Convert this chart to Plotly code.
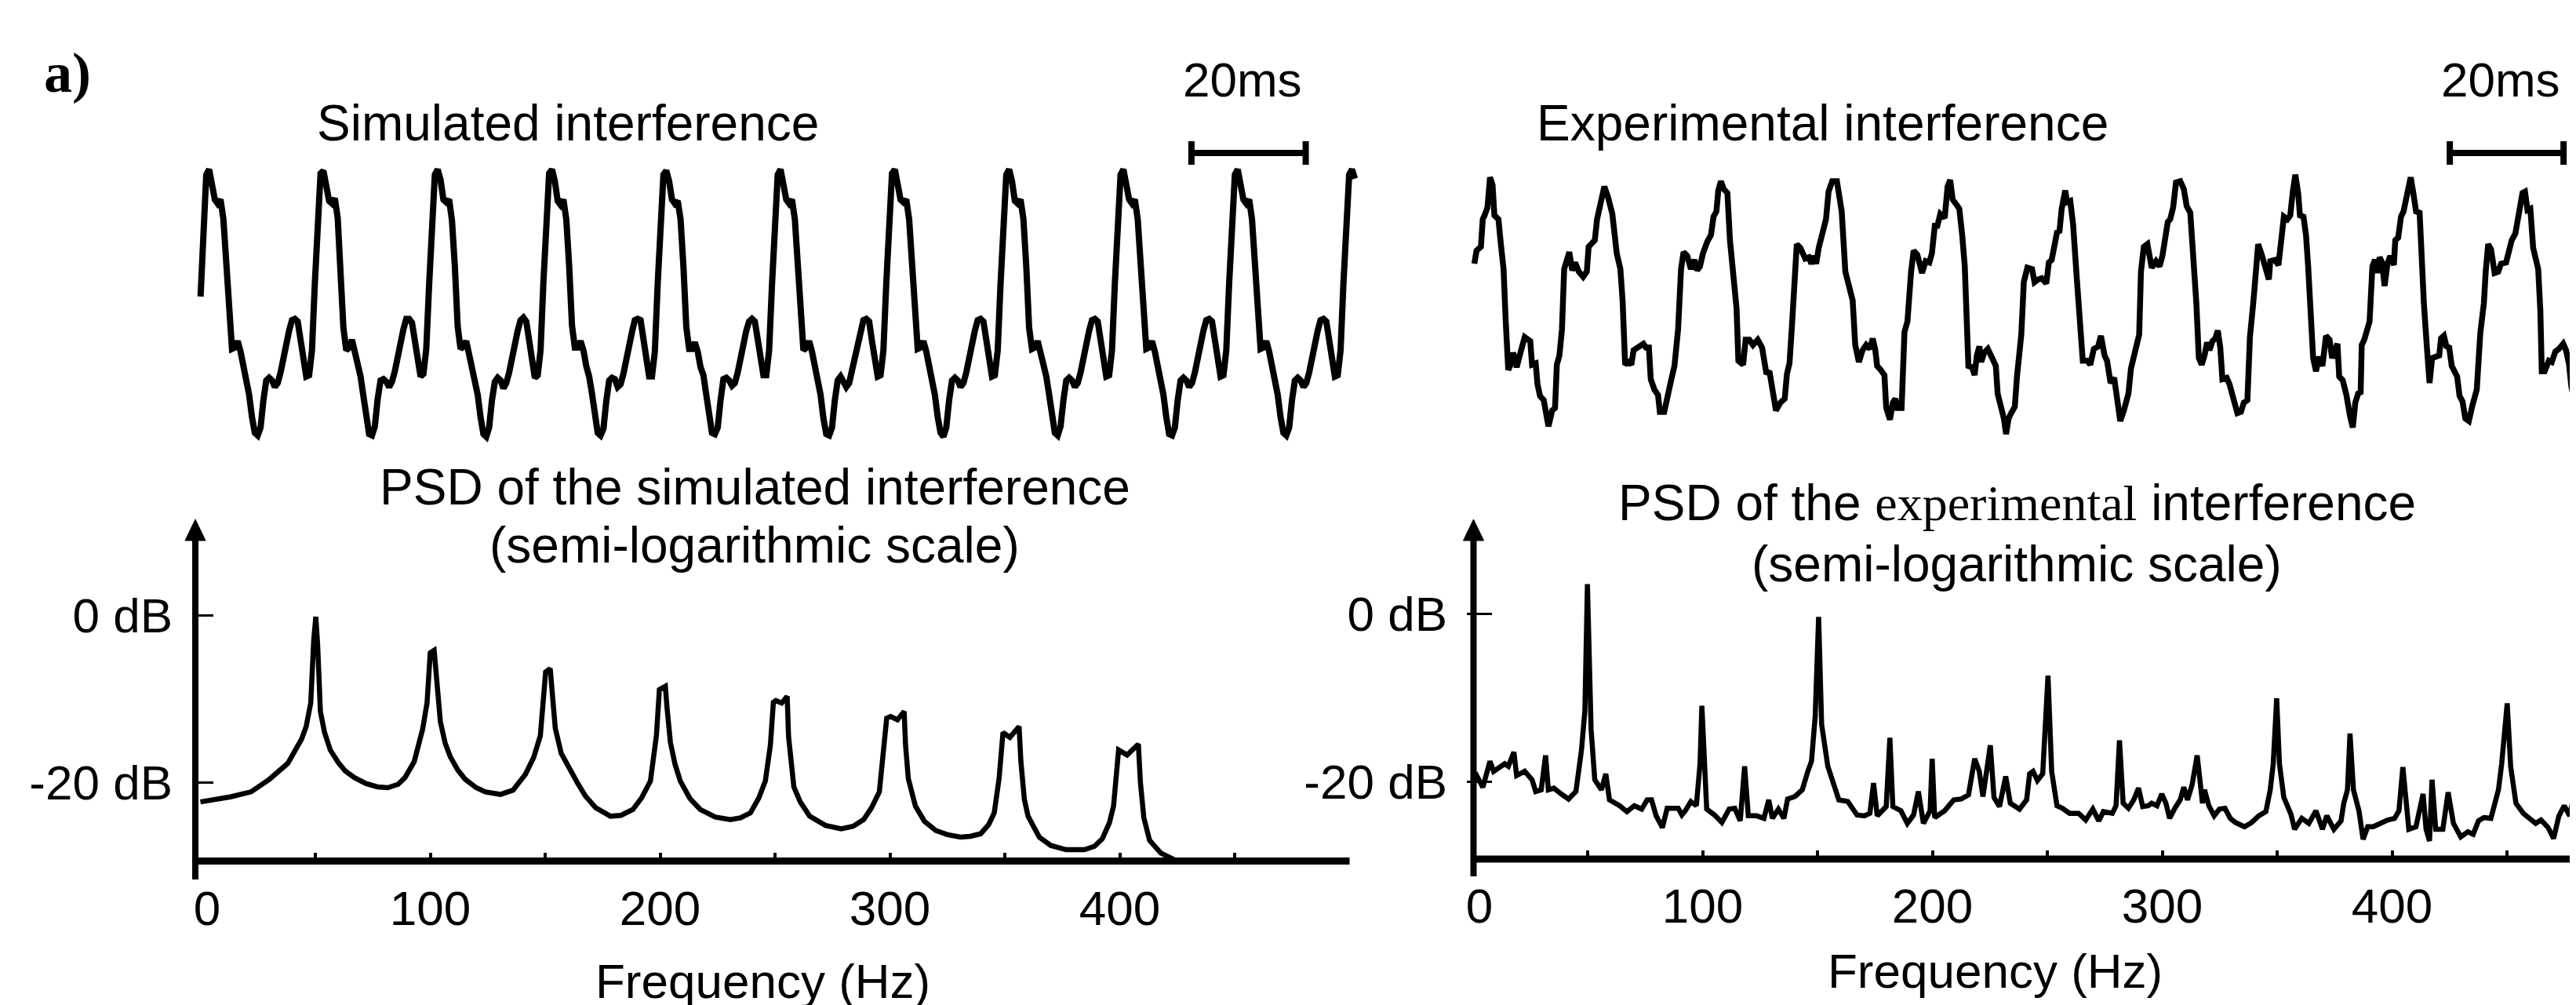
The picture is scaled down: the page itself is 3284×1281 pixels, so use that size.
import numpy as np
import plotly.graph_objects as go

W, H = 3284, 1281
MX, MY = 8, 8  # page body margin of the written html page
SANS = "Liberation Sans, Arial, Helvetica, sans-serif"
SERIF = "Liberation Serif, Times New Roman, serif"

# ---------------- data ----------------
# simulated interference, sampled every 0.5 ms, t = 0 at the first peak
sim_wave_t0_ms = -1.5
sim_wave_dt_ms = 0.5
sim_wave = [
    0.03, 0.67, 0.96, 1.00, 0.91, 0.77, 0.74, 0.77, 0.62, 0.26, -0.20, -0.37, -0.36, -0.31, -0.39, -0.51, -0.58, -0.72, -0.89, -1.01,
    -1.03, -0.97, -0.76, -0.61, -0.59, -0.61, -0.66, -0.63, -0.55, -0.42, -0.33, -0.23, -0.15, -0.14, -0.16, -0.30, -0.49, -0.58, -0.57, -0.38,
    0.13, 0.68, 0.97, 0.99, 0.90, 0.76, 0.74, 0.78, 0.63, 0.25, -0.21, -0.38, -0.36, -0.30, -0.39, -0.52, -0.58, -0.73, -0.90, -1.02,
    -1.03, -0.96, -0.75, -0.61, -0.60, -0.62, -0.66, -0.62, -0.54, -0.41, -0.33, -0.22, -0.14, -0.14, -0.17, -0.31, -0.50, -0.58, -0.56, -0.37,
    0.12, 0.66, 0.96, 1.00, 0.92, 0.77, 0.75, 0.77, 0.61, 0.26, -0.20, -0.37, -0.35, -0.31, -0.40, -0.51, -0.59, -0.72, -0.89, -1.02,
    -1.04, -0.97, -0.76, -0.62, -0.59, -0.61, -0.67, -0.63, -0.55, -0.42, -0.32, -0.23, -0.15, -0.13, -0.16, -0.30, -0.49, -0.59, -0.57, -0.38,
    0.14, 0.67, 0.97, 1.00, 0.91, 0.76, 0.73, 0.77, 0.62, 0.27, -0.19, -0.36, -0.36, -0.31, -0.38, -0.50, -0.58, -0.71, -0.88, -1.01,
    -1.03, -0.98, -0.77, -0.61, -0.59, -0.60, -0.66, -0.64, -0.56, -0.43, -0.33, -0.24, -0.15, -0.14, -0.15, -0.29, -0.48, -0.58, -0.58, -0.39,
    0.13, 0.67, 0.96, 0.99, 0.91, 0.77, 0.74, 0.76, 0.62, 0.26, -0.20, -0.37, -0.37, -0.32, -0.39, -0.51, -0.57, -0.72, -0.89, -1.01,
    -1.02, -0.97, -0.76, -0.60, -0.59, -0.61, -0.65, -0.63, -0.55, -0.42, -0.34, -0.23, -0.16, -0.14, -0.16, -0.30, -0.49, -0.57, -0.57, -0.38,
    0.12, 0.68, 0.96, 1.00, 0.90, 0.77, 0.74, 0.77, 0.62, 0.25, -0.20, -0.38, -0.36, -0.31, -0.39, -0.51, -0.58, -0.72, -0.90, -1.02,
    -1.03, -0.97, -0.76, -0.61, -0.58, -0.61, -0.66, -0.63, -0.54, -0.42, -0.33, -0.23, -0.15, -0.14, -0.16, -0.31, -0.49, -0.58, -0.57, -0.38,
    0.13, 0.67, 0.97, 1.00, 0.91, 0.77, 0.75, 0.77, 0.62, 0.26, -0.20, -0.37, -0.36, -0.31, -0.39, -0.51, -0.58, -0.72, -0.89, -1.01,
    -1.04, -0.97, -0.76, -0.61, -0.59, -0.61, -0.66, -0.63, -0.55, -0.42, -0.33, -0.23, -0.15, -0.14, -0.16, -0.30, -0.49, -0.58, -0.57, -0.38,
    0.13, 0.66, 0.96, 1.00, 0.91, 0.76, 0.74, 0.77, 0.62, 0.26, -0.21, -0.37, -0.36, -0.31, -0.39, -0.51, -0.58, -0.72, -0.89, -1.01,
    -1.03, -0.96, -0.76, -0.61, -0.59, -0.61, -0.66, -0.63, -0.55, -0.42, -0.33, -0.23, -0.15, -0.14, -0.16, -0.30, -0.49, -0.58, -0.57, -0.38,
    0.13, 0.67, 0.96, 1.00, 0.91, 0.77, 0.74, 0.77, 0.62, 0.26, -0.20, -0.37, -0.36, -0.31, -0.39, -0.51, -0.58, -0.72, -0.89, -1.02,
    -1.03, -0.97, -0.76, -0.61, -0.59, -0.61, -0.66, -0.63, -0.55, -0.42, -0.33, -0.23, -0.15, -0.14, -0.16, -0.30, -0.49, -0.58, -0.57, -0.38,
    0.13, 0.67, 0.96, 1.00, 0.91, 0.77, 0.74, 0.77, 0.62, 0.26, -0.20, -0.37, -0.36, -0.31, -0.39, -0.51, -0.58, -0.72, -0.89, -1.01,
    -1.03, -0.97, -0.76, -0.61, -0.59, -0.61, -0.66, -0.63, -0.55, -0.42, -0.33, -0.23, -0.15, -0.14, -0.16, -0.30, -0.49, -0.58, -0.57, -0.38,
    0.13, 0.67, 0.96, 1.00, 0.93,
]

# experimental interference: (time ms, amplitude)
exp_wave = [
    (0.13, 0.28), (0.52, 0.38), (1.29, 0.41), (1.61, 0.62), (1.93, 0.65), (2.44, 0.71), (2.89, 0.94), (3.34, 0.88), (3.66, 0.65), (4.37, 0.62),
    (4.82, 0.42), (5.27, 0.24), (5.65, -0.16), (6.10, -0.53), (6.42, -0.50), (6.94, -0.40), (7.19, -0.43), (7.58, -0.51), (8.35, -0.38), (8.99, -0.28),
    (9.96, -0.31), (10.28, -0.49), (10.92, -0.48), (11.24, -0.64), (11.69, -0.73), (12.33, -0.76), (13.17, -0.96), (13.81, -0.84), (14.32, -0.82), (14.64, -0.49),
    (15.09, -0.42), (15.54, -0.22), (15.93, 0.24), (16.38, 0.29), (16.83, 0.37), (17.34, 0.23), (17.85, 0.29), (18.50, 0.22), (19.27, 0.18), (19.91, 0.22),
    (20.23, 0.41), (20.87, 0.44), (21.32, 0.46), (21.71, 0.62), (22.35, 0.74), (22.99, 0.87), (23.63, 0.79), (24.40, 0.66), (25.17, 0.36), (25.81, 0.24),
    (26.20, 0.00), (26.65, -0.49), (27.29, -0.47), (27.74, -0.49), (28.13, -0.38), (28.90, -0.36), (29.86, -0.33), (30.31, -0.36), (30.83, -0.36), (31.15, -0.60),
    (31.79, -0.68), (32.43, -0.72), (32.75, -0.85), (33.52, -0.85), (34.03, -0.72), (34.68, -0.62), (35.32, -0.50), (35.96, -0.22), (36.48, 0.24), (36.92, 0.37),
    (37.57, 0.34), (38.21, 0.24), (38.85, 0.31), (39.30, 0.23), (39.81, 0.26), (40.33, 0.36), (41.10, 0.45), (41.74, 0.50), (42.19, 0.64), (42.70, 0.68),
    (43.03, 0.84), (43.48, 0.91), (43.99, 0.85), (44.63, 0.82), (45.08, 0.46), (45.59, 0.20), (46.24, -0.06), (46.56, -0.46), (47.39, -0.49), (47.84, -0.30),
    (48.48, -0.30), (49.13, -0.34), (49.96, -0.30), (50.73, -0.36), (51.24, -0.50), (51.50, -0.56), (52.02, -0.54), (52.66, -0.70), (53.17, -0.84), (53.94, -0.78),
    (54.71, -0.75), (55.10, -0.56), (55.55, -0.48), (56.00, -0.18), (56.51, 0.22), (56.83, 0.43), (57.47, 0.40), (58.31, 0.32), (58.95, 0.33), (59.40, 0.28),
    (59.85, 0.34), (60.24, 0.28), (60.68, 0.40), (61.33, 0.51), (61.97, 0.62), (62.42, 0.83), (63.06, 0.91), (63.89, 0.91), (64.73, 0.68), (65.37, 0.22),
    (66.01, 0.10), (66.66, 0.00), (67.11, -0.34), (67.75, -0.47), (68.39, -0.38), (69.03, -0.34), (69.67, -0.37), (70.19, -0.29), (70.64, -0.38), (70.96, -0.50),
    (71.60, -0.53), (72.24, -0.57), (72.56, -0.82), (73.21, -0.91), (73.72, -0.78), (74.17, -0.75), (74.49, -0.82), (75.26, -0.82), (75.77, -0.24), (76.29, -0.16),
    (76.93, 0.22), (77.38, 0.38), (78.02, 0.35), (78.86, 0.21), (79.50, 0.30), (80.14, 0.29), (80.59, 0.36), (81.10, 0.57), (81.55, 0.57), (82.07, 0.66),
    (82.84, 0.63), (83.35, 0.87), (83.80, 0.92), (84.25, 0.77), (84.77, 0.74), (85.41, 0.70), (85.92, 0.50), (86.37, 0.26), (87.01, -0.50), (87.66, -0.51),
    (88.10, -0.57), (88.49, -0.42), (88.94, -0.35), (89.26, -0.47), (89.77, -0.40), (90.42, -0.37), (91.19, -0.44), (91.83, -0.50), (92.15, -0.71), (92.79, -0.82),
    (93.24, -0.90), (93.63, -1.02), (94.08, -0.90), (94.52, -0.86), (95.17, -0.81), (95.55, -0.58), (96.31, -0.26), (96.75, 0.14), (97.38, 0.25), (98.20, 0.24),
    (98.64, 0.14), (99.26, 0.16), (99.89, 0.17), (100.71, 0.13), (101.15, 0.29), (101.65, 0.31), (102.15, 0.45), (102.59, 0.52), (103.03, 0.53), (103.41, 0.70),
    (104.04, 0.84), (104.35, 0.75), (104.92, 0.76), (105.42, 0.58), (106.05, 0.18), (106.68, -0.22), (107.12, -0.46), (107.93, -0.46), (108.44, -0.49), (109.06, -0.37),
    (109.82, -0.35), (110.32, -0.27), (110.95, -0.42), (111.39, -0.46), (112.01, -0.63), (112.64, -0.59), (113.08, -0.70), (113.71, -0.92), (114.34, -0.84), (115.15, -0.71),
    (115.59, -0.52), (116.41, -0.38), (117.04, -0.26), (117.35, 0.22), (117.86, 0.41), (118.48, 0.43), (119.24, 0.25), (119.99, 0.30), (120.62, 0.26), (121.12, 0.34),
    (121.63, 0.45), (122.07, 0.60), (122.50, 0.62), (123.01, 0.71), (123.51, 0.90), (124.26, 0.91), (124.89, 0.85), (125.39, 0.72), (126.02, 0.67), (126.46, 0.42),
    (127.09, -0.02), (127.53, -0.44), (128.03, -0.49), (128.53, -0.42), (128.97, -0.32), (129.41, -0.38), (129.92, -0.31), (130.42, -0.29), (130.86, -0.23), (131.30, -0.36),
    (131.67, -0.60), (132.43, -0.59), (132.93, -0.64), (133.68, -0.76), (134.31, -0.86), (134.94, -0.85), (135.44, -0.78), (136.07, -0.76), (136.51, -0.28), (137.14, 0.00),
    (137.58, 0.22), (137.96, 0.43), (138.58, 0.35), (139.21, 0.25), (139.84, 0.16), (140.09, 0.30), (140.91, 0.31), (141.53, 0.27), (141.98, 0.42), (142.48, 0.64),
    (143.11, 0.62), (143.61, 0.65), (144.05, 0.83), (144.49, 0.96), (144.99, 0.82), (145.31, 0.65), (145.93, 0.64), (146.37, 0.50), (146.75, 0.26), (147.19, -0.08),
    (147.63, -0.44), (148.13, -0.54), (148.63, -0.43), (149.26, -0.50), (149.89, -0.27), (150.52, -0.30), (150.96, -0.44), (151.90, -0.33), (152.21, -0.58), (152.84, -0.61),
    (153.47, -0.72), (154.10, -0.88), (154.60, -0.97), (155.04, -0.78), (155.54, -0.71), (155.98, -0.70), (156.17, -0.34), (156.61, -0.30), (157.55, -0.16), (158.05, 0.26),
    (158.50, 0.31), (158.93, 0.21), (159.31, 0.33), (159.75, 0.29), (160.19, 0.11), (160.69, 0.28), (161.19, 0.34), (161.82, 0.27), (162.07, 0.46), (162.58, 0.48),
    (163.08, 0.64), (163.52, 0.68), (164.15, 0.83), (164.78, 0.94), (165.21, 0.83), (165.72, 0.68), (166.35, 0.67), (166.66, 0.32), (167.10, -0.02), (167.60, -0.34),
    (168.10, -0.63), (168.55, -0.44), (169.18, -0.43), (169.80, -0.42), (170.11, -0.29), (170.62, -0.27), (171.06, -0.35), (171.56, -0.36), (172.00, -0.50), (172.50, -0.56),
    (172.94, -0.58), (173.38, -0.73), (173.89, -0.77), (174.39, -0.90), (175.01, -0.92), (175.64, -0.80), (176.40, -0.68), (177.02, -0.25), (177.65, -0.02), (177.97, 0.22),
    (178.41, 0.43), (178.91, 0.39), (179.54, 0.21), (180.17, 0.22), (180.67, 0.28), (181.55, 0.29), (182.05, 0.38), (182.55, 0.46), (183.18, 0.51), (183.62, 0.62),
    (184.06, 0.69), (184.44, 0.82), (184.88, 0.83), (185.32, 0.69), (185.82, 0.70), (186.32, 0.40), (187.20, 0.24), (187.58, -0.08), (187.83, -0.54), (188.33, -0.54),
    (189.08, -0.46), (189.59, -0.47), (190.22, -0.39), (190.84, -0.37), (191.60, -0.33), (192.10, -0.38), (192.60, -0.48), (193.04, -0.66), (193.86, -0.82), (194.50, -0.95),
]

# PSD of the simulated interference: (frequency Hz, level dB)
sim_psd = [
    (0, -22.3), (5, -22.1), (13, -21.7), (22, -21.1), (30, -19.6), (38, -17.7), (44, -14.8), (46, -13.3), (48, -10.5), (49.3, -3.0),
    (50.2, -0.2), (51, -3.5), (52.2, -11.5), (54, -14.0), (56.5, -16.1), (60, -17.6), (63, -18.6), (67, -19.4), (72, -20.1), (77, -20.5),
    (81.5, -20.6), (86, -20.2), (89, -19.4), (93, -17.5), (96.7, -13.6), (98.6, -10.5), (100, -4.5), (101.7, -4.2), (102.5, -7.0), (104.4, -12.7),
    (106.5, -15.3), (108.7, -16.9), (112, -18.5), (115.2, -19.6), (120, -20.6), (124, -21.1), (130.5, -21.4), (136, -20.9), (141.4, -19.0), (145, -17.0),
    (147.9, -14.4), (149.5, -9.5), (150.2, -6.8), (152.2, -6.4), (153, -9.0), (154.4, -13.5), (157, -16.5), (161, -18.6), (164, -20.0), (167.5, -21.6),
    (172, -23.0), (178.4, -24.0), (183, -23.9), (188.2, -23.2), (192, -21.8), (195.8, -19.8), (198.4, -14.4), (199.7, -8.9), (202.3, -8.5), (203, -11.0),
    (204.5, -15.2), (206.5, -17.8), (208.8, -19.8), (213, -21.9), (217.5, -23.2), (224, -24.1), (230.6, -24.4), (235, -24.2), (239.3, -23.6), (243, -21.8),
    (245.8, -19.8), (248, -15.5), (249.3, -10.4), (250.4, -10.2), (252.9, -10.5), (255.3, -9.7), (255.9, -14.5), (258.2, -20.5), (261, -22.3), (265.1, -24.0),
    (272, -25.1), (278.8, -25.5), (284, -25.2), (288.6, -24.4), (292, -23.0), (295.4, -21.1), (297.5, -16.0), (298.6, -12.3), (300.3, -12.1), (303.3, -12.5),
    (306.2, -11.5), (306.8, -15.5), (308, -19.5), (311.1, -22.8), (315, -24.6), (319.9, -25.7), (325, -26.2), (330.7, -26.5), (335, -26.4), (339.5, -26.1),
    (343, -25.0), (345.4, -23.6), (347.5, -19.5), (349.2, -14.0), (352.2, -14.6), (356.2, -13.3), (357, -17.5), (358.5, -22.0), (360.1, -24.0), (365, -26.5),
    (370, -27.5), (376.7, -28.0), (384.6, -28.0), (389, -27.6), (392.4, -26.7), (395.5, -24.8), (397.3, -22.8), (399.5, -16.1), (403.2, -16.7), (408.1, -15.4),
    (409, -20.0), (410.5, -24.2), (413, -26.9), (417.9, -28.4), (423.8, -29.2), (427, -29.4),
]

# PSD of the experimental interference: (frequency Hz, level dB)
exp_psd = [
    (0.5, -19.6), (1.7, -19.3), (4.4, -20.7), (6.0, -19.1), (7.5, -17.6), (9.1, -18.8), (11.5, -18.4), (13.9, -17.9), (15.5, -18.2), (17.9, -16.5),
    (19.1, -19.3), (22.6, -18.8), (25.8, -19.8), (27.4, -21.2), (29.8, -21.0), (31.7, -16.9), (32.9, -21.0), (35.3, -20.8), (38.5, -21.5), (41.7, -22.1),
    (44.9, -21.2), (47.3, -16.3), (48.8, -11.6), (49.9, 3.5), (51.5, -13.8), (53.1, -19.8), (56.0, -21.0), (57.9, -19.1), (59.5, -22.2), (63.9, -22.9),
    (67.1, -23.6), (70.3, -22.9), (73.5, -23.3), (75.9, -22.2), (77.8, -22.2), (79.8, -24.1), (82.5, -25.5), (84.6, -23.2), (89.4, -23.2), (91.0, -24.0),
    (92.5, -23.5), (94.9, -22.4), (97.3, -22.9), (98.9, -17.9), (99.7, -11.0), (100.8, -17.9), (101.8, -23.3), (105.2, -24.0), (108.4, -24.9), (111.6, -23.3),
    (114.0, -23.2), (116.4, -24.7), (118.3, -18.2), (119.9, -24.1), (123.5, -24.1), (126.7, -24.4), (128.8, -22.2), (130.4, -24.4), (133.0, -23.3), (135.4, -24.4),
    (137.0, -22.1), (140.2, -21.8), (143.4, -21.0), (145.8, -18.8), (147.4, -17.6), (149.0, -12.3), (150.5, -0.4), (151.8, -13.2), (154.5, -18.2), (159.3, -22.2),
    (163.2, -22.4), (167.2, -24.0), (170.4, -24.1), (172.8, -23.8), (174.4, -20.2), (176.0, -24.1), (179.9, -23.0), (181.5, -14.8), (182.8, -23.0), (186.3, -23.5),
    (189.1, -25.0), (191.8, -24.0), (193.9, -21.2), (196.1, -25.0), (199.0, -23.5), (199.9, -17.3), (201.0, -24.3), (205.3, -23.5), (209.3, -22.2), (212.5, -22.1),
    (215.7, -21.6), (218.4, -17.3), (220.4, -18.8), (222.0, -21.8), (225.2, -15.7), (226.8, -21.9), (229.2, -23.0), (231.9, -19.4), (233.9, -22.6), (237.9, -23.3),
    (241.0, -22.2), (242.3, -19.1), (243.8, -18.8), (245.7, -19.9), (248.0, -19.1), (250.3, -7.4), (251.9, -18.8), (254.2, -22.9), (256.6, -23.2), (259.7, -23.8),
    (263.6, -23.8), (266.7, -24.6), (269.8, -23.3), (272.4, -24.7), (274.4, -23.6), (278.3, -23.8), (279.9, -22.9), (281.4, -15.1), (283.0, -22.6), (285.3, -23.2),
    (287.6, -22.2), (289.7, -20.8), (291.5, -23.0), (293.9, -22.9), (295.4, -22.6), (297.7, -22.9), (299.8, -21.5), (301.6, -22.6), (303.2, -24.4), (305.5, -23.2),
    (307.8, -22.2), (309.4, -20.7), (311.0, -22.2), (313.0, -20.4), (315.2, -16.9), (316.4, -19.8), (317.5, -22.6), (318.4, -21.0), (320.3, -22.9), (322.6, -24.1),
    (324.9, -23.3), (327.3, -23.2), (329.6, -24.4), (331.9, -24.9), (335.8, -25.4), (338.9, -24.9), (342.0, -24.1), (345.1, -23.6), (347.0, -21.0), (348.3, -17.9),
    (349.8, -10.1), (351.0, -17.9), (352.9, -21.9), (356.0, -23.9), (357.6, -25.7), (360.7, -24.4), (363.8, -25.0), (366.9, -23.5), (369.7, -25.7), (371.6, -24.1),
    (374.7, -25.7), (377.8, -24.7), (379.0, -22.6), (380.6, -21.0), (381.7, -14.3), (383.2, -21.0), (385.6, -23.5), (387.4, -26.9), (389.4, -25.4), (391.8, -25.4),
    (394.9, -25.0), (398.0, -24.6), (401.1, -24.4), (403.0, -23.5), (404.7, -18.3), (407.3, -25.7), (410.4, -25.4), (413.5, -21.5), (414.8, -25.7), (416.3, -27.1),
    (417.4, -19.8), (419.0, -25.7), (422.1, -25.7), (424.4, -21.3), (426.7, -25.0), (429.9, -26.6), (433.0, -26.0), (435.3, -26.3), (437.6, -24.7), (440.0, -24.3),
    (443.0, -24.4), (446.3, -21.0), (447.7, -17.9), (450.1, -10.7), (451.6, -18.2), (453.9, -22.6), (457.1, -23.8), (460.2, -24.4), (462.5, -25.0), (464.8, -24.6),
    (467.9, -25.5), (470.3, -26.8), (472.6, -24.1), (474.9, -22.9), (477.3, -24.1), (479.6, -21.0), (482.0, -16.0),
]

freq_label_vals = [0, 100, 200, 300, 400]
freq_label_text = ["\u00a00", "100", "200", "300", "400"]
freq_tick_vals = [50, 100, 150, 200, 250, 300, 350, 400, 450]
db_tick_vals = [0, -20]
db_tick_text = ["0 dB", "-20 dB"]
scale_bar_ms = 20
scale_bar_start_ms = {"x": 171.9, "x2": 171.66}

# ---------------- figure ----------------
sim_t = sim_wave_t0_ms + sim_wave_dt_ms * np.arange(len(sim_wave))
exp_t = [p[0] for p in exp_wave]
exp_v = [p[1] for p in exp_wave]
sim_f = [p[0] for p in sim_psd]
sim_db = [p[1] for p in sim_psd]
exp_f = [p[0] for p in exp_psd]
exp_db = [p[1] for p in exp_psd]

fig = go.Figure()
common = dict(mode="lines", hoverinfo="skip", showlegend=False)
fig.add_trace(go.Scatter(x=sim_t, y=sim_wave, line=dict(color="black", width=8), xaxis="x", yaxis="y", **common))
fig.add_trace(go.Scatter(x=exp_t, y=exp_v, line=dict(color="black", width=7.5), xaxis="x2", yaxis="y2", **common))
fig.add_trace(go.Scatter(x=sim_f, y=sim_db, line=dict(color="black", width=6.5), xaxis="x3", yaxis="y3", **common))
fig.add_trace(go.Scatter(x=exp_f, y=exp_db, line=dict(color="black", width=6.5), xaxis="x4", yaxis="y4", **common))


# page-pixel helpers (page = figure shifted by the body margin)
def xdom(p0, p1):
    return [max((p0 - MX) / W, 0.0), min((p1 - MX) / W, 1.0)]


def ydom(top, bottom):
    return [1 - (bottom - MY) / H, 1 - (top - MY) / H]


def hrange(p0, p1, p_ref, ppu):
    return [(p0 - p_ref) / ppu, (p1 - p_ref) / ppu]


def vrange(top, bottom, p_ref, ppu):
    return [(p_ref - bottom) / ppu, (p_ref - top) / ppu]


hidden = dict(visible=False, showgrid=False, zeroline=False, fixedrange=True)
tickfont = dict(family=SANS, size=62, color="black")


def freq_axis(dom, rng, anchor):
    return dict(domain=dom, range=rng, anchor=anchor, showgrid=False, zeroline=False, showline=False,
                tickmode="array", tickvals=freq_label_vals, ticktext=freq_label_text, ticks="",
                tickfont=tickfont, ticklabelstandoff=18,
                minor=dict(tickmode="array", tickvals=freq_tick_vals, ticks="inside", ticklen=11,
                           tickwidth=3.5, tickcolor="black", showgrid=False))


def db_axis(dom, rng, anchor, ticklen, standoff):
    return dict(domain=dom, range=rng, anchor=anchor, showgrid=False, zeroline=False, showline=False,
                tickmode="array", tickvals=db_tick_vals, ticktext=db_tick_text, ticks="inside",
                ticklen=ticklen, tickwidth=2.5, tickcolor="black", tickfont=tickfont,
                ticklabelstandoff=standoff)


RIGHT = W + MX
fig.update_layout(
    width=W, height=H, margin=dict(l=0, r=0, t=0, b=0, autoexpand=False),
    paper_bgcolor="white", plot_bgcolor="rgba(0,0,0,0)",
    xaxis=dict(domain=xdom(250, 1735), range=hrange(250, 1735, 266.6, 7.285), anchor="y", **hidden),
    yaxis=dict(domain=ydom(195, 575), range=vrange(195, 575, 383, 167), anchor="x", **hidden),
    xaxis2=dict(domain=xdom(1870, RIGHT), range=hrange(1870, RIGHT, 1878.6, 7.25), anchor="y2", **hidden),
    yaxis2=dict(domain=ydom(195, 575), range=vrange(195, 575, 383, 167), anchor="x2", **hidden),
    xaxis3=freq_axis(xdom(249, 1720.5), hrange(249, 1720.5, 255.5, 2.93), "y3"),
    yaxis3=db_axis(ydom(686, 1097.6), vrange(686, 1097.6, 784, 10.68), "x3", 23, 28),
    xaxis4=freq_axis(xdom(1870, RIGHT), hrange(1870, RIGHT, 1877.5, 2.93), "y4"),
    yaxis4=db_axis(ydom(686, 1095), vrange(686, 1095, 782, 10.7), "x4", 31.5, 24),
)


def P(xp, yp):
    return (xp - MX) / W, 1 - (yp - MY) / H


shapes = []


def pline(x0, y0, x1, y1, w):
    a, b = P(x0, y0)
    c, d = P(x1, y1)
    shapes.append(dict(type="line", xref="paper", yref="paper", x0=a, y0=b, x1=c, y1=d,
                       line=dict(color="black", width=w)))


def arrow(xc, tip, base, half):
    pts = [P(xc, tip), P(xc + half, base), P(xc - half, base)]
    path = "M {} {} L {} {} L {} {} Z".format(*[v for p in pts for v in p])
    shapes.append(dict(type="path", xref="paper", yref="paper", path=path,
                       fillcolor="black", line=dict(color="black", width=1)))


# PSD axes (left)
pline(249, 684, 249, 1121, 8)
arrow(249, 662, 689, 13)
pline(252, 1097.6, 1720.5, 1097.6, 9)
# PSD axes (right)
pline(1878.5, 684, 1878.5, 1117, 8)
arrow(1878.5, 662, 689, 13)
pline(1881, 1095, RIGHT + 5, 1095, 9)

# 20 ms scale bars (in data units of the waveform axes)
for ax in ("x", "x2"):
    t0 = scale_bar_start_ms[ax]
    t1 = t0 + scale_bar_ms
    yb = P(0, 195)[1]
    shapes.append(dict(type="line", xref=ax, yref="paper", x0=t0, x1=t1, y0=yb, y1=yb,
                       line=dict(color="black", width=8)))
    for t in (t0, t1):
        shapes.append(dict(type="line", xref=ax, yref="paper", x0=t, x1=t,
                           y0=P(0, 180)[1], y1=P(0, 210)[1], line=dict(color="black", width=8)))

fig.update_layout(shapes=shapes)


def ann(text, xp, yp, size=64, family=SANS):
    x, y = P(xp, yp)
    return dict(text=text, x=x, y=y, xref="paper", yref="paper", xanchor="center", yanchor="middle",
                showarrow=False, font=dict(family=family, size=size, color="black"))


annotations = [
    ann("<b>a)</b>", 86, 93, 72, SERIF),
    ann("Simulated interference", 724, 157),
    ann("Experimental interference", 2323, 157),
    ann("20ms", 1584, 102, 62),
    ann("20ms", 3188, 102, 62),
    ann("PSD of the simulated interference", 962, 621),
    ann("(semi-logarithmic scale)", 962, 695),
    ann('PSD of the <span style="font-family:Liberation Serif, Times New Roman, serif">experimental</span> interference', 2571, 641),
    ann("(semi-logarithmic scale)", 2571, 719),
    ann("Frequency (Hz)", 973, 1250, 62),
    ann("Frequency (Hz)", 2543, 1237, 62),
]
fig.update_layout(annotations=annotations)

fig.write_html("out.html")
